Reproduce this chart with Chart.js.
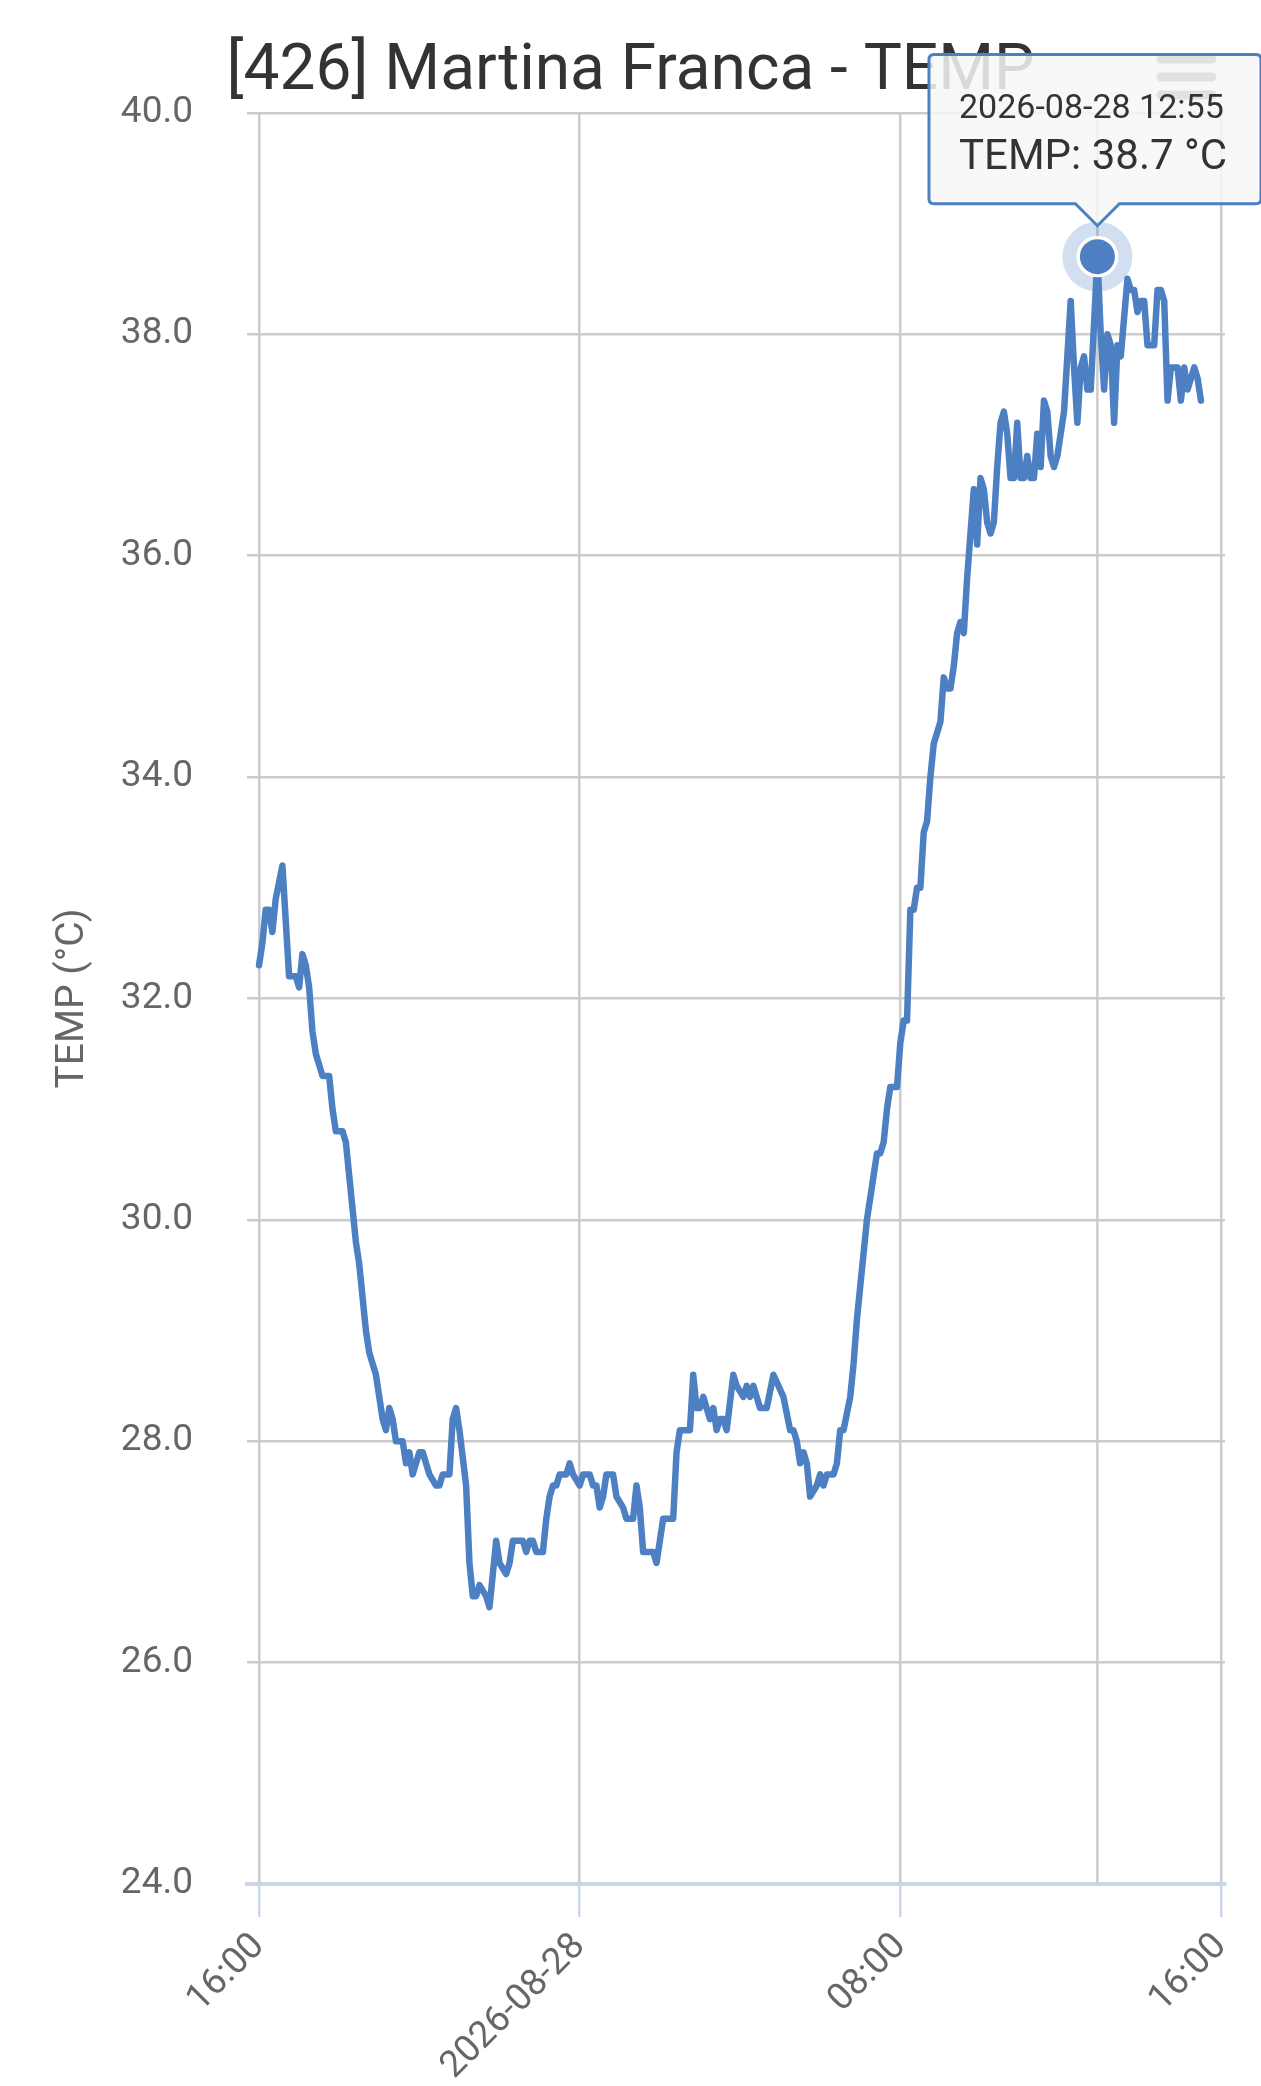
<!DOCTYPE html>
<html>
<head>
<meta charset="utf-8">
<title>[426] Martina Franca - TEMP</title>
<script src="https://cdn.jsdelivr.net/npm/chart.js@4.4.1/dist/chart.umd.min.js"></script>
<style>
  html, body { margin: 0; padding: 0; background: #fff; }
  #wrap { width: 1261px; height: 2086px; position: relative; }
</style>
</head>
<body>
<div id="wrap"><canvas id="temp_chart"></canvas></div>
<script>
// readings, 2026-08-27 16:00 -> 2026-08-28 15:30
const times = [
  '16:00','16:05','16:10','16:15','16:20','16:25','16:35','16:45','16:55','17:00',
  '17:05','17:10','17:15','17:20','17:25','17:35','17:45','17:50','17:55','18:05',
  '18:10','18:15','18:20','18:25','18:30','18:35','18:40','18:45','18:55','19:00',
  '19:05','19:10','19:15','19:20','19:25','19:35','19:40','19:45','19:50','20:00',
  '20:05','20:15','20:25','20:30','20:35','20:45','20:50','20:55','21:00','21:10',
  '21:15','21:20','21:25','21:30','21:40','21:45','21:50','21:55','22:00','22:10',
  '22:15','22:20','22:35','22:40','22:45','22:50','22:55','23:05','23:10','23:15',
  '23:20','23:25','23:30','23:40','23:45','23:50','00:00','00:05','00:15','00:20',
  '00:25','00:30','00:35','00:40','00:50','00:55','01:05','01:10','01:20','01:25',
  '01:30','01:35','01:50','01:55','02:05','02:20','02:25','02:30','02:45','02:50',
  '02:55','03:00','03:05','03:15','03:20','03:25','03:30','03:35','03:40','03:50',
  '03:55','04:05','04:10','04:15','04:20','04:30','04:40','04:50','05:05','05:15',
  '05:20','05:25','05:30','05:35','05:40','05:45','05:55','06:00','06:05','06:10',
  '06:20','06:25','06:30','06:35','06:45','06:50','06:55','07:00','07:05','07:10',
  '07:15','07:20','07:25','07:30','07:35','07:40','07:45','07:55','08:00','08:05',
  '08:10','08:15','08:20','08:25','08:30','08:35','08:40','08:45','08:50','08:55',
  '09:00','09:05','09:10','09:15','09:20','09:25','09:30','09:35','09:40','09:45',
  '09:50','09:55','10:00','10:05','10:10','10:15','10:20','10:25','10:30','10:35',
  '10:40','10:45','10:50','10:55','11:00','11:05','11:10','11:15','11:20','11:25',
  '11:30','11:35','11:40','11:45','11:50','11:55','12:00','12:05','12:15','12:20',
  '12:25','12:30','12:35','12:40','12:45','12:55','13:00','13:05','13:10','13:15',
  '13:20','13:25','13:30','13:40','13:45','13:50','13:55','14:00','14:05','14:10',
  '14:20','14:25','14:30','14:35','14:40','14:45','14:55','15:00','15:05','15:10',
  '15:20','15:25','15:30'
]
const temps = [
  32.3,32.5,32.8,32.8,32.6,32.9,33.2,32.2,32.2,32.1,
  32.4,32.3,32.1,31.7,31.5,31.3,31.3,31.0,30.8,30.8,
  30.7,30.4,30.1,29.8,29.6,29.3,29.0,28.8,28.6,28.4,
  28.2,28.1,28.3,28.2,28.0,28.0,27.8,27.9,27.7,27.9,
  27.9,27.7,27.6,27.6,27.7,27.7,28.2,28.3,28.1,27.6,
  26.9,26.6,26.6,26.7,26.6,26.5,26.8,27.1,26.9,26.8,
  26.9,27.1,27.1,27.0,27.1,27.1,27.0,27.0,27.3,27.5,
  27.6,27.6,27.7,27.7,27.8,27.7,27.6,27.7,27.7,27.6,
  27.6,27.4,27.5,27.7,27.7,27.5,27.4,27.3,27.3,27.6,
  27.4,27.0,27.0,26.9,27.3,27.3,27.9,28.1,28.1,28.6,
  28.3,28.3,28.4,28.2,28.3,28.1,28.2,28.2,28.1,28.6,
  28.5,28.4,28.5,28.4,28.5,28.3,28.3,28.6,28.4,28.1,
  28.1,28.0,27.8,27.9,27.8,27.5,27.6,27.7,27.6,27.7,
  27.7,27.8,28.1,28.1,28.4,28.7,29.1,29.4,29.7,30.0,
  30.2,30.4,30.6,30.6,30.7,31.0,31.2,31.2,31.6,31.8,
  31.8,32.8,32.8,33.0,33.0,33.5,33.6,34.0,34.3,34.4,
  34.5,34.9,34.8,34.8,35.0,35.3,35.4,35.3,35.8,36.2,
  36.6,36.1,36.7,36.6,36.3,36.2,36.3,36.8,37.2,37.3,
  37.1,36.7,36.7,37.2,36.7,36.7,36.9,36.7,36.7,37.1,
  36.8,37.4,37.3,36.9,36.8,36.9,37.1,37.3,38.3,37.7,
  37.2,37.7,37.8,37.5,37.5,38.7,38.0,37.5,38.0,37.9,
  37.2,37.9,37.8,38.5,38.4,38.4,38.2,38.3,38.3,37.9,
  37.9,38.4,38.4,38.3,37.4,37.7,37.7,37.4,37.7,37.5,
  37.7,37.6,37.4
]

const firstDay = '2026-08-27'
const secondDay = '2026-08-28'
const xTickMinutes = [0, 480, 960, 1440]
const xTickLabels = ['16:00', '2026-08-28', '08:00', '16:00']
const highlightTime = '12:55'

const lineColor = '#4d80c2'
const gridColor = '#cccccc'

// minutes since 16:00 of the first day
function toMinutes(t){
    const parts = t.split(':').map(Number)
    let m = parts[0] * 60 + parts[1] - 16 * 60
    if (m < 0) m += 1440
    return m
}

const points = times.map((t, i) => ({ x: toMinutes(t), y: temps[i] }))

/**
 * crosshair, halo and menu icon
 */
const hoverExtras = {
    id: 'hoverExtras',
    beforeDatasetsDraw(chart){
        const act = chart.getActiveElements()
        if (!act.length) return
        const ctx = chart.ctx, a = chart.chartArea
        const x = act[0].element.x
        ctx.save()
        ctx.strokeStyle = gridColor
        ctx.lineWidth = 2.5
        ctx.beginPath()
        ctx.moveTo(x, a.top)
        ctx.lineTo(x, a.bottom)
        ctx.stroke()
        ctx.restore()
    },
    afterDatasetsDraw(chart){
        const ctx = chart.ctx
        const act = chart.getActiveElements()
        ctx.save()
        if (act.length){
            const el = act[0].element
            ctx.fillStyle = 'rgba(77,128,194,0.25)'
            ctx.beginPath()
            ctx.arc(el.x, el.y, 35, 0, Math.PI * 2)
            ctx.arc(el.x, el.y, 21, 0, Math.PI * 2, true)
            ctx.fill('evenodd')
        }
        // context menu button
        ctx.strokeStyle = '#666666'
        ctx.lineWidth = 9
        ctx.lineCap = 'round'
        ;[59, 77, 95].forEach(y => {
            ctx.beginPath()
            ctx.moveTo(1161, y)
            ctx.lineTo(1212, y)
            ctx.stroke()
        })
        ctx.restore()
    }
}

Chart.defaults.font.family = 'Roboto'

const tempChart = new Chart(document.getElementById('temp_chart').getContext('2d'), {
    type: 'line',
    data: {
        datasets: [{
            label: 'TEMP',
            data: points,
            borderColor: lineColor,
            backgroundColor: lineColor,
            borderWidth: 6.5,
            borderJoinStyle: 'round',
            borderCapStyle: 'round',
            tension: 0,
            fill: false,
            pointRadius: 0,
            pointHoverRadius: 19,
            pointHoverBorderWidth: 3,
            pointHoverBorderColor: '#ffffff',
            pointHoverBackgroundColor: lineColor
        }]
    },
    options: {
        responsive: true,
        maintainAspectRatio: false,
        animation: false,
        events: [],
        layout: { padding: 0 },
        plugins: {
            legend: { display: false },
            title: {
                display: true,
                text: '[426] Martina Franca - TEMP',
                color: '#333333',
                font: { size: 64, weight: 'normal' },
                padding: { top: 35, bottom: 1 }
            },
            tooltip: {
                backgroundColor: 'rgba(247,247,247,0.85)',
                borderColor: lineColor,
                borderWidth: 3,
                titleColor: '#333333',
                bodyColor: '#333333',
                titleFont: { size: 34, weight: 'normal' },
                bodyFont: { size: 42, weight: 'normal' },
                titleMarginBottom: 3,
                padding: { top: 35, bottom: 20, left: 30, right: 34 },
                cornerRadius: 5,
                caretSize: 22,
                caretPadding: 31,
                displayColors: false,
                xAlign: 'center',
                yAlign: 'bottom',
                callbacks: {
                    title: items => {
                        const i = items[0].dataIndex
                        const day = points[i].x < 480 ? firstDay : secondDay
                        return day + ' ' + times[i]
                    },
                    label: item => 'TEMP: ' + temps[item.dataIndex].toFixed(1) + ' °C'
                }
            }
        },
        scales: {
            x: {
                type: 'linear',
                min: -18,
                max: 1446,
                afterBuildTicks: s => { s.ticks = xTickMinutes.map(v => ({ value: v })) },
                afterFit: s => { s.height = 202 },
                grid: {
                    color: gridColor,
                    lineWidth: 2.5,
                    tickColor: '#ccd6eb',
                    tickLength: 33,
                    tickWidth: 2.5
                },
                border: { color: '#ccd6eb', width: 4 },
                ticks: {
                    autoSkip: false,
                    maxRotation: 45,
                    minRotation: 45,
                    padding: 8,
                    color: '#666666',
                    font: { size: 37 },
                    callback: v => xTickLabels[xTickMinutes.indexOf(v)]
                }
            },
            y: {
                min: 24,
                max: 40,
                afterFit: s => { s.width = 247 },
                grid: {
                    color: c => c.tick.value === 24 ? 'rgba(0,0,0,0)' : gridColor,
                    lineWidth: 2.5,
                    drawTicks: false
                },
                border: { display: false },
                ticks: {
                    stepSize: 2,
                    padding: 54,
                    color: '#666666',
                    font: { size: 37 },
                    callback: v => v.toFixed(1)
                },
                title: {
                    display: true,
                    text: 'TEMP (°C)',
                    color: '#666666',
                    font: { size: 39 },
                    padding: { top: 50, bottom: 0 }
                }
            },
            // empty strip on the right so the title stays centred on the page
            side: {
                position: 'right',
                afterFit: s => { s.width = 36 },
                grid: { display: false },
                border: { display: false },
                ticks: { display: false }
            }
        }
    },
    plugins: [hoverExtras]
})

/**
 * show the reading at 12:55 as hovered
 */
const hi = times.indexOf(highlightTime)
tempChart.setActiveElements([{ datasetIndex: 0, index: hi }])
tempChart.tooltip.setActiveElements([{ datasetIndex: 0, index: hi }], { x: 0, y: 0 })
tempChart.update()
</script>
</body>
</html>
